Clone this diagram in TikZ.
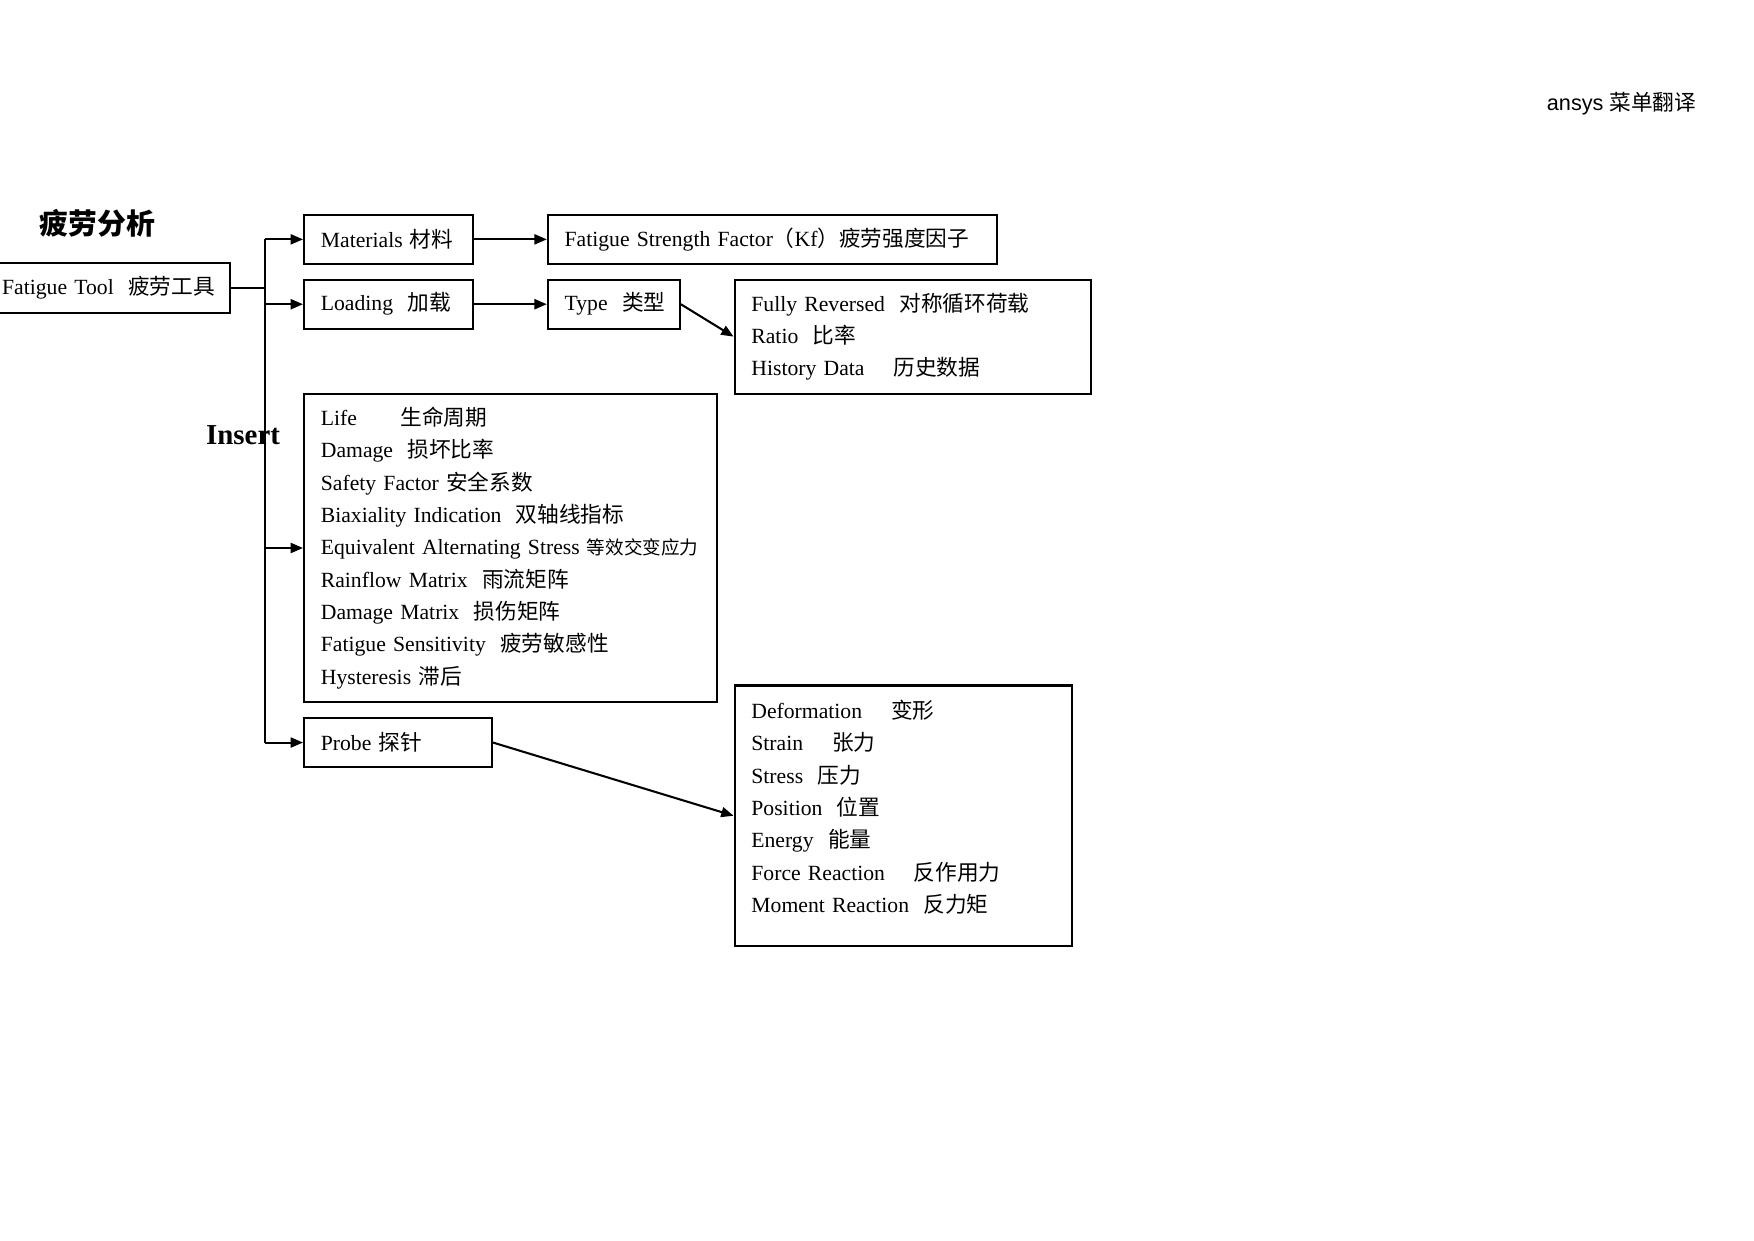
\documentclass[tikz,border=0pt]{standalone}
\usepackage{fontspec}
\setmainfont{Liberation Serif}
\newfontfamily\cjk{Noto Sans CJK SC}
\newfontfamily\ansysfont{Liberation Sans}
\usetikzlibrary{arrows.meta}

\newcommand{\zh}[1]{{\cjk #1}}
\newcommand{\zhs}[1]{{\cjk\fontsize{9}{15.65}\selectfont #1}}

\begin{document}
\begin{tikzpicture}[
  every node/.style = {font=\fontsize{10.5}{15.65}\selectfont},
  heading/.style = {anchor=west, inner sep=0pt},
  box/.style = {draw, line width=1pt, anchor=west, align=left,
    inner xsep=0.286cm, inner ysep=0pt, minimum height=0.838cm},
  link/.style = {line width=1pt},
  >={Triangle[length=2.1mm, width=1.7mm]}
]
\useasboundingbox (0, -0.095) rectangle (29.86, 21.02);

\node[heading, font=\fontsize{14}{16}\selectfont\bfseries\cjk] (title) at (0.666, 17.212) {疲劳分析};
\node[heading, font=\fontsize{14}{16}\selectfont\bfseries] (insert) at (3.503, 13.614) {Insert};
\node[heading] (ansys) at (26.327, 19.249) {\ansysfont ansys \zh{菜单翻译}};

\node[box, text width=3.597cm] (tool) at (-0.267, 16.117) {Fatigue~Tool~~\zh{疲劳工具}};

\node[box, text width=2.302cm] (mat) at (5.159, 16.945) {Materials \zh{材料}};
\node[box, text width=7.080cm] (kf) at (9.309, 16.945) {Fatigue Strength Factor\zh{（}Kf\zh{）疲劳强度因子}};

\node[box, text width=2.302cm] (load) at (5.159, 15.841) {Loading~~\zh{加载}};
\node[box, text width=1.674cm] (type) at (9.309, 15.841) {Type~~\zh{类型}};
\node[box, text width=5.500cm, minimum height=1.942cm] (ratio) at (12.488, 15.289) {
  Fully Reversed~~\zh{对称循环荷载}\\
  Ratio~~\zh{比率}\\
  History Data~~~~\zh{历史数据}};

\node[box, text width=6.452cm, minimum height=5.254cm] (result) at (5.159, 11.691) {
  Life~~~~~~\zh{生命周期}\\
  Damage~~\zh{损坏比率}\\
  Safety Factor \zh{安全系数}\\
  Biaxiality Indication~~\zh{双轴线指标}\\
  Equivalent Alternating Stress \zhs{等效交变应力}\\
  Rainflow Matrix~~\zh{雨流矩阵}\\
  Damage Matrix~~\zh{损伤矩阵}\\
  Fatigue Sensitivity~~\zh{疲劳敏感性}\\
  Hysteresis \zh{滞后}};

\node[box, text width=2.626cm] (probe) at (5.159, 8.379) {Probe \zh{探针}};
\node[box, text width=5.177cm, minimum height=4.435cm] (quant) at (12.488, 7.133) {
  Deformation~~~~\zh{变形}\\
  Strain~~~~\zh{张力}\\
  Stress~~\zh{压力}\\
  Position~~\zh{位置}\\
  Energy~~\zh{能量}\\
  Force Reaction~~~~\zh{反作用力}\\
  Moment Reaction~~\zh{反力矩}\rule[-3.2mm]{0pt}{3.2mm}};

% insert branch
\coordinate (trunk) at (4.511, 16.117);
\draw[link] (tool.east) -- (trunk);
\draw[link] (trunk |- mat.west) -- (trunk |- probe.west);
\draw[link, ->] (trunk |- mat.west) -- (mat.west);
\draw[link, ->] (trunk |- load.west) -- (load.west);
\draw[link, ->] (trunk |- result.west) -- (result.west);
\draw[link, ->] (trunk |- probe.west) -- (probe.west);

\draw[link, ->] (mat) -- (kf);
\draw[link, ->] (load) -- (type);
\draw[link, ->] (type.east) -- (ratio.west);
\draw[link, ->] (probe.east) -- (quant.west);
\end{tikzpicture}
\end{document}
